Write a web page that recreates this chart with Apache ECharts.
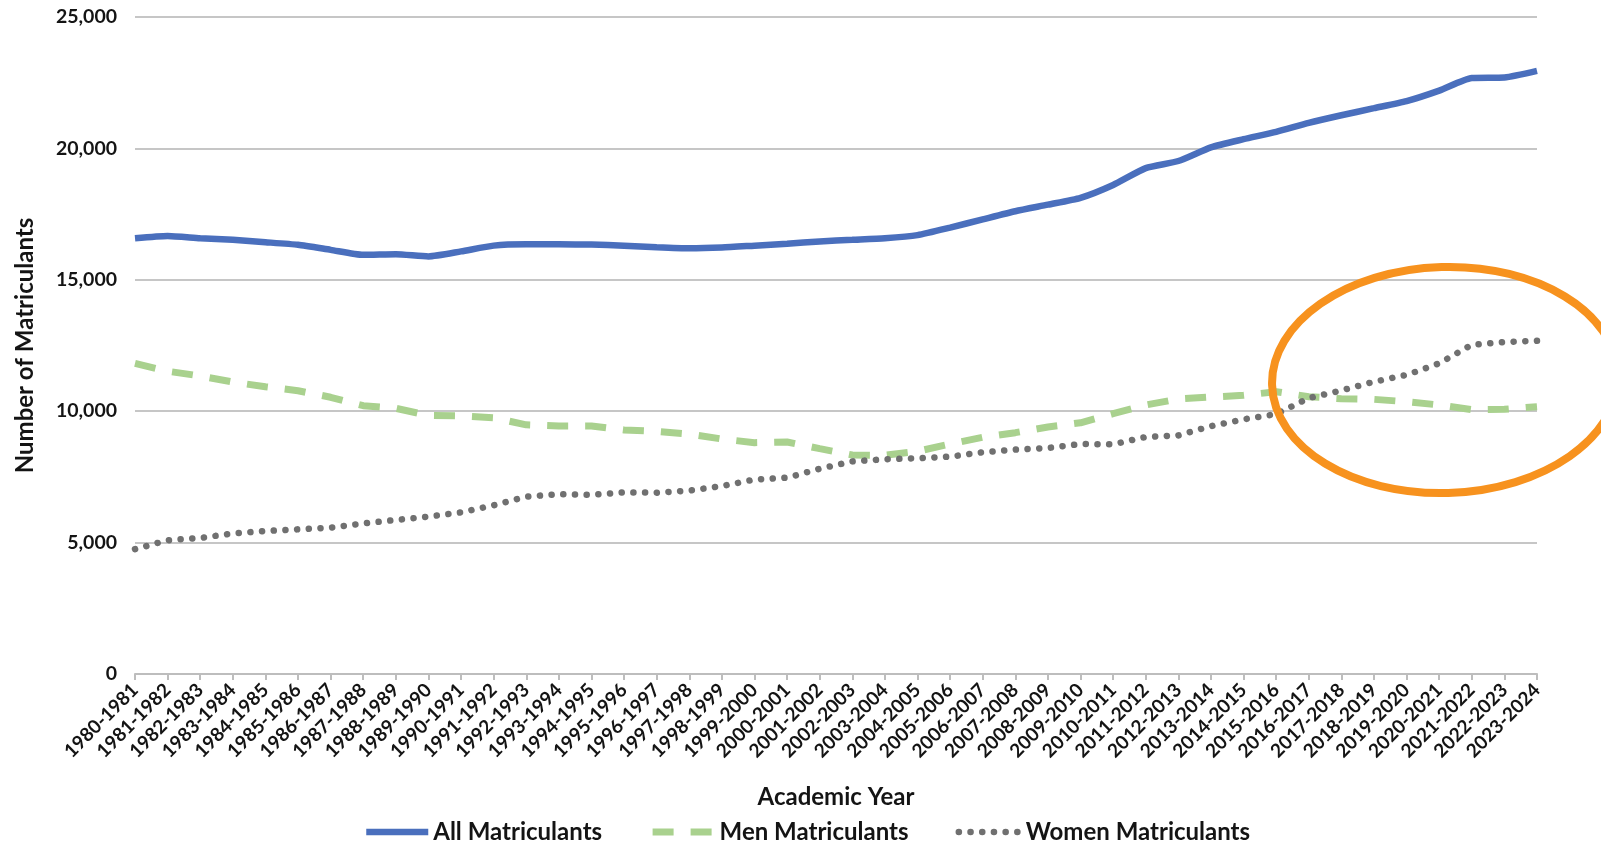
<!DOCTYPE html>
<html>
<head>
<meta charset="utf-8">
<title>Matriculants by Academic Year</title>
<script src="https://cdn.jsdelivr.net/npm/echarts@6/dist/echarts.min.js"></script>
<style>
  html, body { margin: 0; padding: 0; background: #ffffff; }
  #chart { width: 1601px; height: 844px; }
</style>
</head>
<body>
<div id="chart"></div>
<script>
// Academic years on the category axis
const academicYears = [
  '1980-1981', '1981-1982', '1982-1983', '1983-1984', '1984-1985', '1985-1986',
  '1986-1987', '1987-1988', '1988-1989', '1989-1990', '1990-1991', '1991-1992',
  '1992-1993', '1993-1994', '1994-1995', '1995-1996', '1996-1997', '1997-1998',
  '1998-1999', '1999-2000', '2000-2001', '2001-2002', '2002-2003', '2003-2004',
  '2004-2005', '2005-2006', '2006-2007', '2007-2008', '2008-2009', '2009-2010',
  '2010-2011', '2011-2012', '2012-2013', '2013-2014', '2014-2015', '2015-2016',
  '2016-2017', '2017-2018', '2018-2019', '2019-2020', '2020-2021', '2021-2022',
  '2022-2023', '2023-2024'
];

// Number of matriculants per academic year
const allMatriculants = [
  16580, 16670, 16580, 16520, 16430, 16330, 16140, 15950, 15975, 15890,
  16080, 16300, 16350, 16350, 16340, 16300, 16240, 16200, 16230, 16300,
  16370, 16460, 16520, 16580, 16700, 16985, 17300, 17610, 17860, 18120,
  18610, 19250, 19520, 20040, 20350, 20630, 20970, 21260, 21530, 21800,
  22200, 22680, 22700, 22950
];

const menMatriculants = [
  11820, 11520, 11340, 11110, 10930, 10780, 10530, 10210, 10110, 9840,
  9820, 9750, 9480, 9440, 9440, 9285, 9234, 9132, 8942, 8803,
  8828, 8574, 8333, 8321, 8473, 8752, 9006, 9183, 9400, 9560,
  9905, 10236, 10464, 10540, 10604, 10743, 10552, 10476, 10451, 10362,
  10236, 10058, 10070, 10172
];

const womenMatriculants = [
  4750, 5090, 5175, 5350, 5440, 5505, 5570, 5730, 5860, 5990,
  6150, 6420, 6750, 6840, 6820, 6910, 6900, 6980, 7150, 7400,
  7470, 7810, 8090, 8170, 8210, 8270, 8440, 8540, 8600, 8750,
  8740, 9020, 9080, 9430, 9690, 9890, 10500, 10790, 11120, 11380,
  11820, 12530, 12630, 12680
];

// Value axis ticks
const yTicks = { min: 0, max: 25000, interval: 5000 };

const FONT = 'Lato, "Open Sans", "DejaVu Sans", sans-serif';
const TEXT = '#141414';

// Line looks shared by the series and their legend icons
const allLine = { color: '#4a6fbd', width: 6.5 };
const menLine = { color: '#a9d18e', width: 7, type: [21, 17], cap: 'butt' };
const womenLine = { color: '#707070', width: 6.5, type: [0.1, 11.6], cap: 'round' };

const chart = echarts.init(document.getElementById('chart'), null, { renderer: 'canvas' });

chart.setOption({
  backgroundColor: '#ffffff',
  animation: false,
  grid: {
    left: 135, right: 64, top: 17, bottom: 170,
    containLabel: false,
    outerBoundsMode: 'none'
  },
  xAxis: {
    type: 'category',
    data: academicYears,
    boundaryGap: false,
    name: 'Academic Year',
    nameLocation: 'middle',
    nameGap: 111,
    nameTextStyle: { fontFamily: FONT, fontWeight: 'bold', fontSize: 24, color: TEXT },
    axisLine: { show: true, lineStyle: { color: '#bdbdbd', width: 2 } },
    axisTick: { show: true, length: 6, interval: 0, lineStyle: { color: '#bdbdbd', width: 2 } },
    axisLabel: {
      interval: 0, rotate: 45, margin: 13,
      fontFamily: FONT, fontWeight: 'bold', fontSize: 19, color: TEXT
    },
    splitLine: { show: false }
  },
  yAxis: {
    type: 'value',
    min: yTicks.min, max: yTicks.max, interval: yTicks.interval,
    name: 'Number of Matriculants',
    nameLocation: 'middle',
    nameGap: 98,
    nameTextStyle: { fontFamily: FONT, fontWeight: 'bold', fontSize: 24, color: TEXT },
    axisLine: { show: false },
    axisTick: { show: false },
    axisLabel: {
      margin: 18,
      fontFamily: FONT, fontWeight: 'bold', fontSize: 19.5, color: TEXT,
      formatter: v => v.toLocaleString('en-US')
    },
    splitLine: { show: true, lineStyle: { color: '#c6c6c6', width: 2 } }
  },
  legend: {
    left: 358, top: 815,
    itemWidth: 62, itemHeight: 14, itemGap: 47,
    itemStyle: { opacity: 0 },
    textStyle: { fontFamily: FONT, fontWeight: 'bold', fontSize: 24, color: TEXT },
    data: [
      { name: 'All Matriculants', lineStyle: allLine },
      { name: 'Men Matriculants', lineStyle: menLine },
      { name: 'Women Matriculants', lineStyle: womenLine }
    ]
  },
  series: [
    {
      name: 'All Matriculants',
      type: 'line',
      data: allMatriculants,
      symbol: 'none',
      smooth: 0.2,
      z: 3,
      lineStyle: allLine,
      itemStyle: { color: allLine.color }
    },
    {
      name: 'Men Matriculants',
      type: 'line',
      data: menMatriculants,
      symbol: 'none',
      z: 2,
      lineStyle: menLine,
      itemStyle: { color: menLine.color }
    },
    {
      name: 'Women Matriculants',
      type: 'line',
      data: womenMatriculants,
      symbol: 'none',
      z: 2,
      lineStyle: womenLine,
      itemStyle: { color: womenLine.color }
    }
  ],
  graphic: [
    {
      type: 'ellipse',
      z: 100,
      shape: { cx: 1445, cy: 380, rx: 173, ry: 113 },
      rotation: 0.03,
      originX: 1445, originY: 380,
      style: { fill: 'none', stroke: '#f7921e', lineWidth: 8 }
    }
  ]
});
</script>
</body>
</html>
